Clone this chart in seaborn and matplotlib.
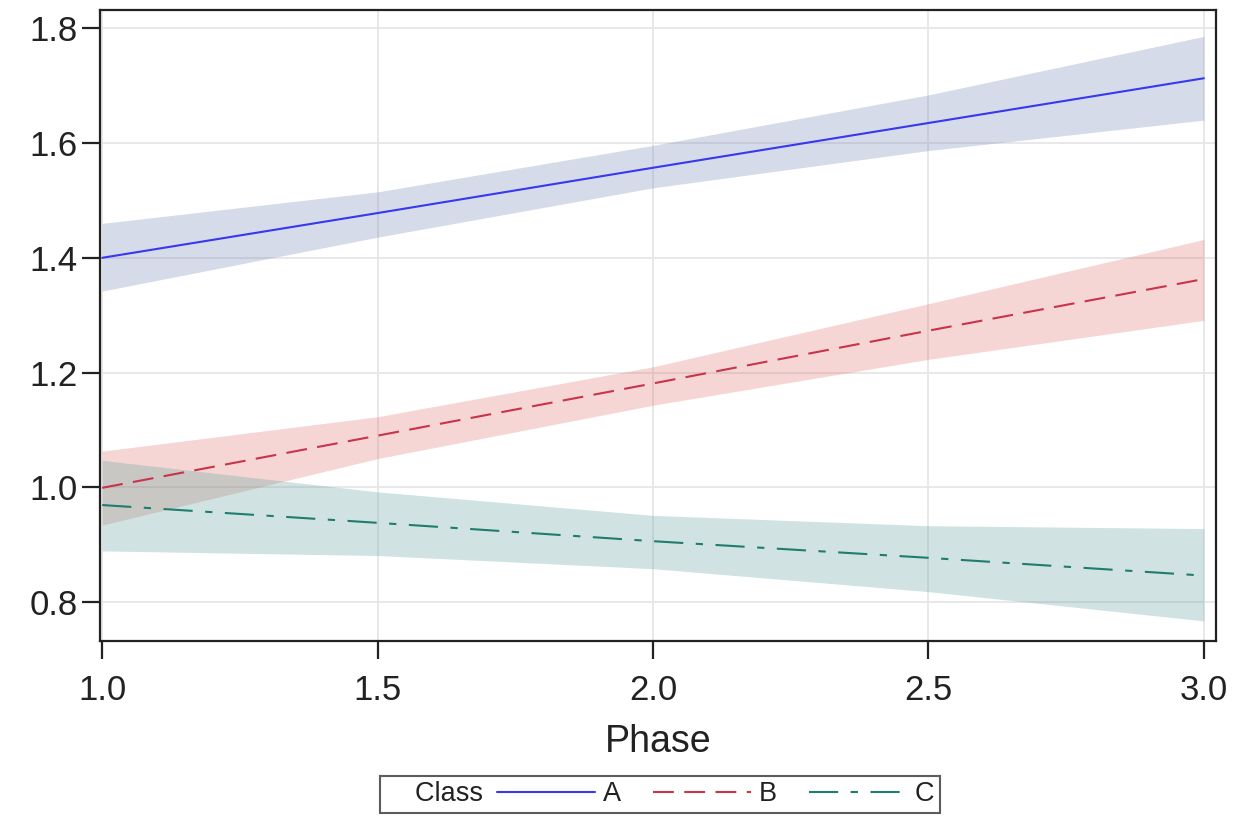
import matplotlib
matplotlib.use("Agg")
import matplotlib.pyplot as plt
import seaborn as sns
import pandas as pd
from matplotlib.lines import Line2D
from matplotlib.offsetbox import HPacker

# ---------------- data ----------------
phase = [1.0, 1.5, 2.0, 2.5, 3.0]
classes = ["A", "B", "C"]

a_mean = [1.400, 1.478, 1.557, 1.635, 1.713]
a_lower = [1.342, 1.436, 1.522, 1.587, 1.640]
a_upper = [1.460, 1.515, 1.596, 1.684, 1.786]

b_mean = [0.999, 1.090, 1.181, 1.273, 1.363]
b_lower = [0.934, 1.050, 1.143, 1.223, 1.291]
b_upper = [1.063, 1.123, 1.210, 1.320, 1.432]

c_mean = [0.969, 0.938, 0.906, 0.877, 0.846]
c_lower = [0.889, 0.881, 0.858, 0.818, 0.767]
c_upper = [1.047, 0.992, 0.951, 0.933, 0.928]

x_ticks = [1.0, 1.5, 2.0, 2.5, 3.0]
y_ticks = [0.8, 1.0, 1.2, 1.4, 1.6, 1.8]

# ---------------- style ----------------
sns.set_style("white")
plt.rcParams["font.family"] = ["Liberation Sans", "DejaVu Sans"]

line_colors = {"A": "#3838ee", "B": "#c8344a", "C": "#1f7d6e"}
band_colors = {"A": "#6f7eb3", "B": "#dc6a62", "C": "#66a5a0"}
band_alpha = {"A": 0.28, "B": 0.27, "C": 0.3}
dash_styles = {"A": "", "B": (10, 5), "C": (14, 6, 3.5, 6)}

means = {"A": a_mean, "B": b_mean, "C": c_mean}
lowers = {"A": a_lower, "B": b_lower, "C": c_lower}
uppers = {"A": a_upper, "B": b_upper, "C": c_upper}

rows = []
for c in classes:
    for xv, mv in zip(phase, means[c]):
        rows.append({"Phase": xv, "Value": mv, "Class": c})
df = pd.DataFrame(rows)

fig = plt.figure(figsize=(12.52, 8.17), dpi=100)
ax = fig.add_axes([100 / 1252, 1 - 641 / 817, 1116 / 1252, 631 / 817])

for c in classes:
    ax.fill_between(phase, lowers[c], uppers[c], color=band_colors[c],
                    alpha=band_alpha[c], linewidth=0, zorder=1)

sns.lineplot(data=df, x="Phase", y="Value", hue="Class", style="Class",
             palette=line_colors, dashes=dash_styles, linewidth=1.5,
             errorbar=None, legend=False, ax=ax, zorder=3)

ax.set_xlim(0.996, 3.022)
ax.set_ylim(0.732, 1.832)
ax.set_xticks(x_ticks)
ax.set_yticks(y_ticks)
ax.set_xticklabels([f"{v:.1f}" for v in x_ticks])
ax.set_yticklabels([f"{v:.1f}" for v in y_ticks])
ax.grid(True, color="#e6e6e6", linewidth=1.3, zorder=0)
ax.set_axisbelow(True)

for s in ax.spines.values():
    s.set_color("#222222")
    s.set_linewidth(1.6)
ax.tick_params(axis="both", which="major", direction="out", length=13,
               width=1.6, color="#222222", labelsize=25, labelcolor="#222222",
               bottom=True, left=True)
ax.tick_params(axis="x", pad=11)
ax.tick_params(axis="y", pad=3)
ax.set_xlabel("Phase", fontsize=27, color="#222222", labelpad=12)
ax.set_ylabel("")

handles = []
for c in classes:
    h = Line2D([0], [0], color=line_colors[c], linewidth=1.5, linestyle="-")
    if dash_styles[c]:
        h.set_dashes(dash_styles[c])
    handles.append(h)

leg = ax.legend(handles, classes, title="    Class", ncol=3,
                loc="upper center", bbox_to_anchor=(660 / 1252, 1 - 776 / 817),
                bbox_transform=fig.transFigure, frameon=True, fancybox=False,
                fontsize=19.5, title_fontsize=19.5, handlelength=3.6,
                handletextpad=0.3, columnspacing=1.2, borderpad=0.2,
                borderaxespad=0)
newbox = HPacker(pad=leg.borderpad * leg._fontsize, sep=0.5 * leg._fontsize,
                 align="center",
                 children=[leg._legend_title_box, leg._legend_handle_box])
newbox.set_figure(fig)
newbox.axes = ax
leg._legend_box = newbox
leg._legend_box.set_offset(leg._findoffset)
frame = leg.get_frame()
frame.set_edgecolor("#333333")
frame.set_linewidth(1.5)
for t in leg.get_texts():
    t.set_color("#222222")
leg.get_title().set_color("#222222")

fig.savefig("out.png", dpi=100)
